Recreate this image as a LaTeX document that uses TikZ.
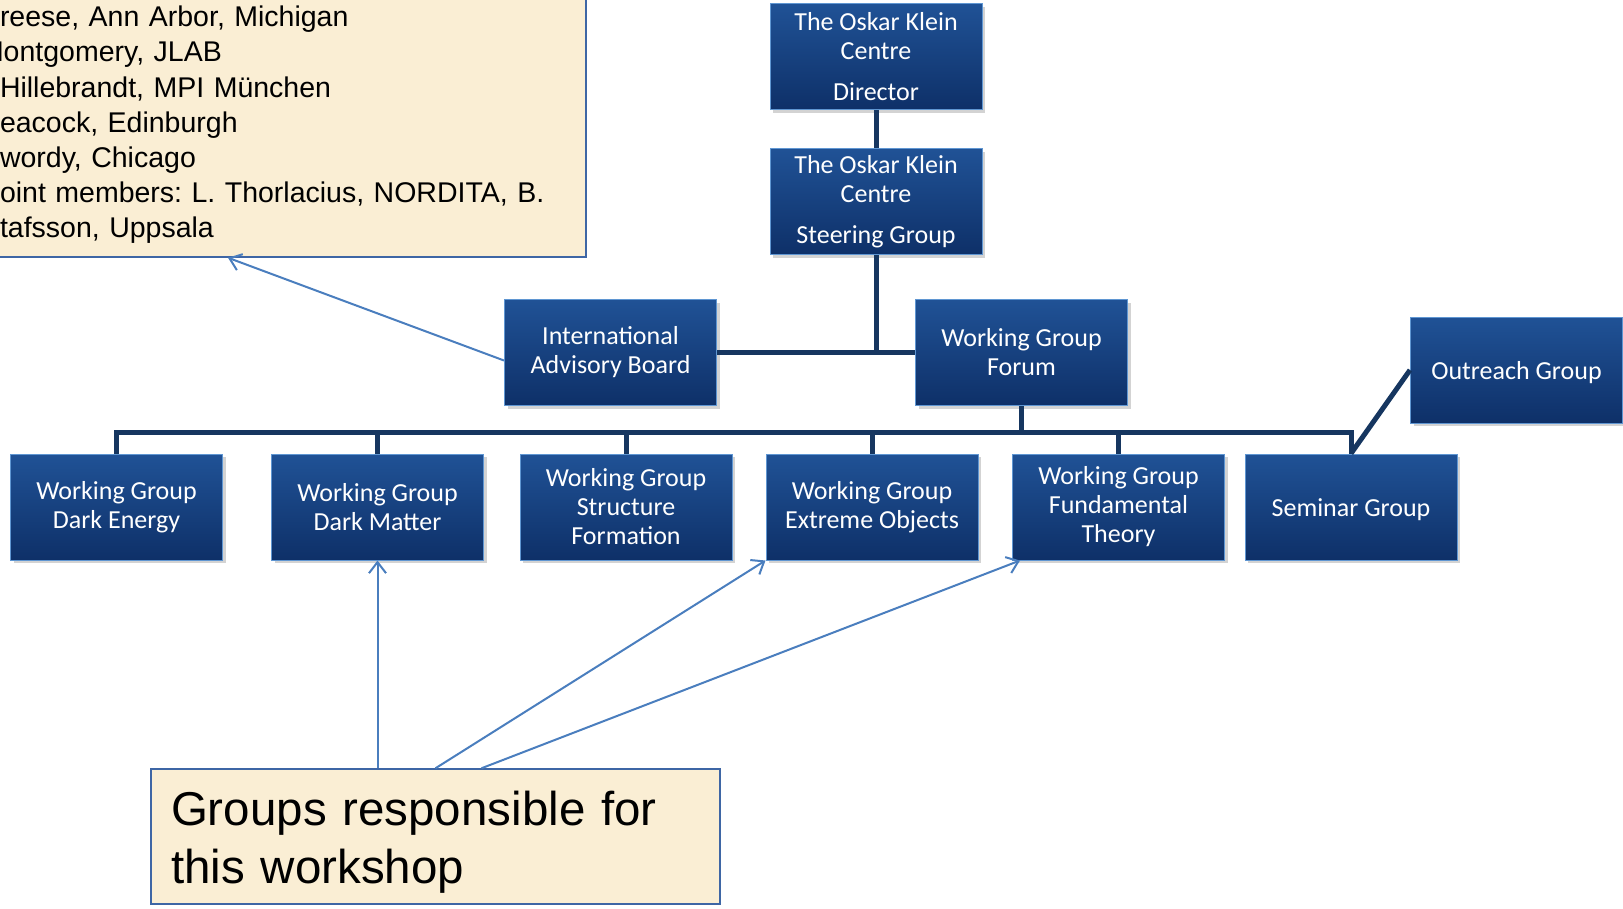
\documentclass[tikz,border=0pt]{standalone}
\usepackage{fontspec}
\setmainfont{Liberation Sans}
\newfontfamily\boxfont{Carlito}
\frenchspacing
\usepackage{tikz}
\usetikzlibrary{arrows.meta,shadows}
\definecolor{navytop}{RGB}{32,82,150}
\definecolor{navybot}{RGB}{14,48,104}
\definecolor{navyrim}{RGB}{95,150,210}
\definecolor{navyline}{RGB}{22,54,96}
\definecolor{paper}{RGB}{250,238,212}
\definecolor{paperrim}{RGB}{62,102,165}
\definecolor{pointer}{RGB}{74,126,190}

\begin{document}
\begin{tikzpicture}[x=1pt, y=-1pt,
	unit/.style = {rectangle, top color=navytop, bottom color=navybot, draw=navyrim, line width=1pt,
		minimum width=212pt, minimum height=106pt, inner sep=0pt, align=center, text=white,
		font=\boxfont\fontsize{26}{29}\selectfont, execute at begin node=\rule{0pt}{22.5pt},
		drop shadow={shadow xshift=3pt, shadow yshift=-3pt, opacity=.35}},
	note/.style = {rectangle, fill=paper, draw=paperrim, line width=1.5pt, align=left, text=black},
	link/.style = {draw=navyline, line width=5pt},
	ptr/.style = {draw=pointer, line width=2pt, -{Straight Barb[length=11pt, width=17pt]}}]
		\useasboundingbox (0,0) rectangle (1623,908);
		\begin{scope}
		\node[note, text width=576pt, inner xsep=10pt, minimum height=264pt,
			font=\fontsize{28.5}{35.2}\selectfont] (members) at (288,125)
			{reese, Ann Arbor, Michigan\\
			\hspace*{-20pt}Montgomery, JLAB\\
			Hillebrandt, MPI München\\
			eacock, Edinburgh\\
			wordy, Chicago\\
			oint members: L. Thorlacius, NORDITA, B.\\
			tafsson, Uppsala};
		\node[note, text width=529pt, inner xsep=20pt, minimum height=135pt,
			font=\fontsize{47.5}{58}\selectfont] (groups) at (435.5,836.5)
			{\rule{0pt}{45pt}Groups responsible for\\this workshop};
		\node[unit] (director) at (876,56.5) {The Oskar Klein\\Centre\\[12pt]Director};
		\node[unit] (steering) at (876,201.5) {The Oskar Klein\\Centre\\[12pt]Steering Group};
		\node[unit] (iab) at (610.5,352.5) {International\\Advisory Board};
		\node[unit] (forum) at (1021.5,352.5) {Working Group\\Forum};
		\node[unit] (outreach) at (1516.5,370) {Outreach Group};
		\node[unit] (de) at (116.5,507) {Working Group\\Dark Energy};
		\node[unit] (dm) at (377.5,507) {Working Group\\Dark Matter};
		\node[unit] (sf) at (626,507) {Working Group\\Structure\\Formation};
		\node[unit] (eo) at (872,507) {Working Group\\Extreme Objects};
		\node[unit] (ft) at (1118.5,507) {Working Group\\Fundamental\\Theory};
		\node[unit] (sg) at (1351,507) {Seminar Group};
		\coordinate (bus) at (0,432);
		\draw[link] (director.south) -- (steering.north);
		\draw[link] (steering.south) -- (steering.south |- iab.east);
		\draw[link] (iab.east) -- (forum.west);
		\draw[link] (forum.south) -- (forum.south |- bus);
		\draw[link] (de.north) |- (bus -| sg.north) -- (sg.north);
		\draw[link] (dm.north) -- (dm.north |- bus);
		\draw[link] (sf.north) -- (sf.north |- bus);
		\draw[link] (eo.north) -- (eo.north |- bus);
		\draw[link] (ft.north) -- (ft.north |- bus);
		\draw[link] (outreach.west) -- (sg.north);
		\draw[ptr] ([yshift=-8pt]iab.west) -- ([xshift=-60pt]members.south);
		\draw[ptr] (groups.north -| dm.south) -- (dm.south);
		\draw[ptr] (groups.north) -- (eo.south west);
		\draw[ptr] ([xshift=46pt]groups.north) -- ([xshift=8pt]ft.south west);
		\end{scope}
		
		\end{tikzpicture}
\end{document}
